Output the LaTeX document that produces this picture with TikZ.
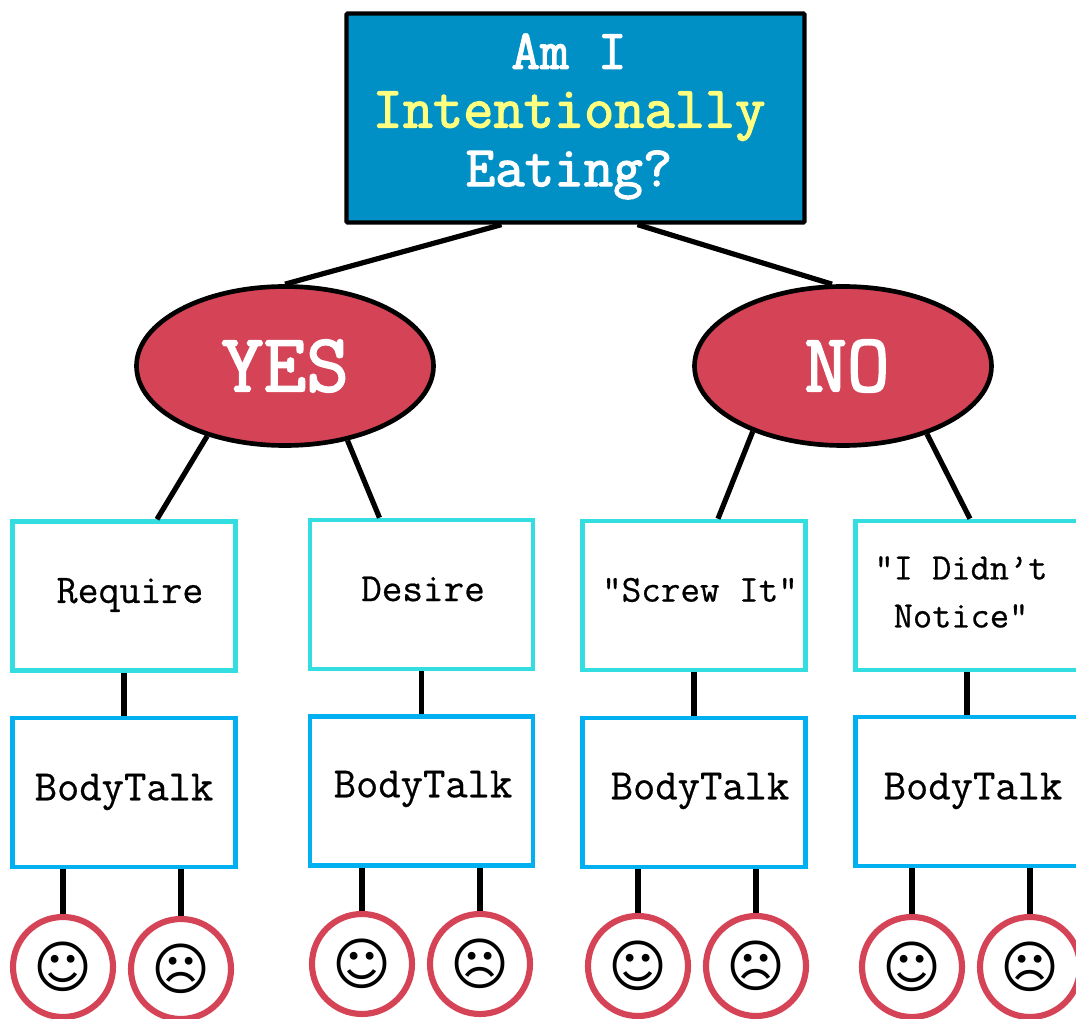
\documentclass[tikz,border=0pt]{standalone}
\usepackage{fontspec}
\setmonofont{Latin Modern Mono}
\newfontfamily\symfont{DejaVu Sans}
\newfontfamily\headfont[FakeBold=2.2]{Latin Modern Mono}
\newfontfamily\bodyfont[FakeBold=0.6]{Latin Modern Mono}
\usetikzlibrary{shapes.geometric}
\definecolor{topblue}{HTML}{0090C6}
\definecolor{hiyellow}{HTML}{FFFF80}
\definecolor{rosered}{HTML}{D54356}
\definecolor{boxcyan}{HTML}{33DDE0}
\definecolor{boxblue}{HTML}{00B0F0}
\newdimen\pxu \pxu=.75pt
\newcommand{\fsz}[1]{\fontsize{#1}{44}\selectfont}
\tikzset{
  link/.style={draw=black,line width=3.9pt},
  topbox/.style={draw=black,fill=topblue,line width=3.2pt,rectangle,rounded corners=.8pt,minimum width=458\pxu,minimum height=209\pxu,inner sep=0pt},
  answer/.style={ellipse,draw=black,fill=rosered,line width=3.5pt,minimum width=297\pxu,minimum height=159\pxu,inner sep=0pt,text=white,font=\headfont\fontsize{62}{65}\selectfont},
  catbox/.style={rectangle,draw=boxcyan,fill=white,line width=3.4pt,minimum width=223\pxu,minimum height=149\pxu,inner sep=0pt},
  talkbox/.style={rectangle,draw=boxblue,fill=white,line width=3.4pt,minimum width=223\pxu,minimum height=149\pxu,inner sep=0pt},
  face/.style={circle,draw=rosered,fill=white,line width=4.6pt,minimum size=100\pxu,inner sep=0pt,text=black,font=\symfont\fontsize{42.5}{43}\selectfont},
  boxtext/.style={inner sep=0pt,align=center,text=black,font=\bodyfont\fontsize{30}{36}\selectfont},
  talktext/.style={inner sep=0pt,text=black,font=\bodyfont\fontsize{32.5}{36}\selectfont},
  titletext/.style={inner sep=0pt,align=center,text=white,font=\headfont\fontsize{42}{44}\selectfont}
}
\begin{document}
\begin{tikzpicture}[x=.75pt,y=-.75pt]
\useasboundingbox (0,0) rectangle (1076,1019);
\clip (0,0) rectangle (1076,1019);
% nodes
\node[topbox] (top) at (575.5,118) {};
\node[titletext] (toptext) at (569,116.5) {\fsz{42}Am I\\\fsz{44}\textcolor{hiyellow}{Intentionally}\\\fsz{43}Eating?};
\node[answer] (yes) at (285,366) {YES};
\node[answer] (no) at (843,366) {\hspace*{6pt}NO};
% first row
\node[catbox] (c1) at (124,596) {};
\node[catbox] (c2) at (421.5,594.5) {};
\node[catbox] (c3) at (694,595.5) {};
\node[catbox] (c4) at (967,595.5) {};
\node[boxtext] (c1t) at (130,595) {\fontsize{30.5}{36}\selectfont Require};
\node[boxtext] (c2t) at (423,589) {Desire};
\node[boxtext] (c3t) at (700,590) {\fontsize{28.5}{36}\selectfont "Screw It"};
\node[boxtext] (c4t) at (961,592) {\fontsize{28}{36}\selectfont "I Didn’t\\\fontsize{28}{36}\selectfont Notice"};
% second row
\node[talkbox] (b1) at (124,792.5) {};
\node[talkbox] (b2) at (421.5,791) {};
\node[talkbox] (b3) at (694,792.5) {};
\node[talkbox] (b4) at (967,791.5) {};
\node[talktext] (b1t) at (124,792) {BodyTalk};
\node[talktext] (b2t) at (423,789) {BodyTalk};
\node[talktext] (b3t) at (700,791) {BodyTalk};
\node[talktext] (b4t) at (973,791) {BodyTalk};
% faces
\node[face] (f1) at (63,967) {☺};
\node[face] (f2) at (181,969) {☹};
\node[face] (f3) at (362,964) {☺};
\node[face] (f4) at (480,964) {☹};
\node[face] (f5) at (638,966) {☺};
\node[face] (f6) at (756,966) {☹};
\node[face] (f7) at (912,967) {☺};
\node[face] (f8) at (1030,967) {☹};
% connectors
\draw[link] ([shift={(-74,0)}]top.south) -- (yes.north);
\draw[link] ([shift={(62,0)}]top.south) -- ([shift={(-11,0)}]no.north);
\draw[link] (yes.222.6) -- ([shift={(33,0)}]c1.north);
\draw[link] (yes.-50) -- ([shift={(-42,0)}]c2.north);
\draw[link] (no.216.2) -- ([shift={(24,0)}]c3.north);
\draw[link] (no.-39.6) -- ([shift={(3,0)}]c4.north);
\draw[link] (c1) -- (b1);
\draw[link] (c2) -- (b2);
\draw[link] (c3) -- (b3);
\draw[link] (c4) -- (b4);
\draw[link] (b1.south -| f1) -- (f1.north);
\draw[link] (b1.south -| f2) -- (f2.north);
\draw[link] (b2.south -| f3) -- (f3.north);
\draw[link] (b2.south -| f4) -- (f4.north);
\draw[link] (b3.south -| f5) -- (f5.north);
\draw[link] (b3.south -| f6) -- (f6.north);
\draw[link] (b4.south -| f7) -- (f7.north);
\draw[link] (b4.south -| f8) -- (f8.north);
\end{tikzpicture}
\end{document}
